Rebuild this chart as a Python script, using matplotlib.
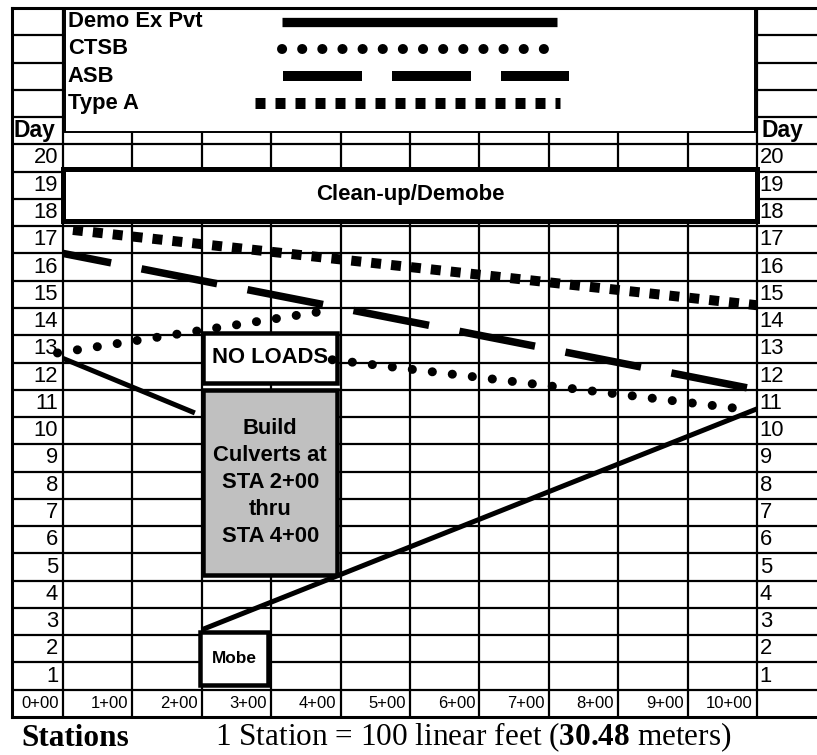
"""Linear schedule: culvert job, days vs. stations (spreadsheet style)."""

import matplotlib.pyplot as plt
import matplotlib.patches as mpatches

plt.rcParams["font.family"] = ["Liberation Sans", "DejaVu Sans"]
plt.rcParams["lines.scale_dashes"] = False
plt.rcParams["mathtext.fontset"] = "custom"
plt.rcParams["mathtext.rm"] = "Liberation Serif"
plt.rcParams["mathtext.bf"] = "Liberation Serif:bold"

OUT = "out.png"
SERIF = ["Liberation Serif", "DejaVu Serif"]


def px(v):
    """pixels -> points at dpi 100"""
    return v * 72 / 100


# --- Data: stations (x) and days (y) ---
STATIONS = list(range(11))
STATION_LABELS = [f"{s}+00" for s in STATIONS]
DAYS = list(range(1, 21))

DEMO_A_STA = [0, 1.9]
DEMO_A_DAY = [12.15, 10.15]
DEMO_B_STA = [2, 10]
DEMO_B_DAY = [2.2, 10.3]

CTSB_A_STA = [-0.08, 3.92]
CTSB_A_DAY = [12.35, 13.95]
CTSB_B_STA = [3.88, 9.93]
CTSB_B_DAY = [12.1, 10.25]

ASB_STA = [0, 10]
ASB_DAY = [16.0, 11.0]

TYPEA_STA = [0, 10]
TYPEA_DAY = [16.9, 14.1]

# activity blocks: station from/to, day from/to
CLEANUP = (0, 10, 17.2, 19.1)
NO_LOADS = (2.02, 3.95, 11.25, 13.1)
CULVERTS = (2.02, 3.95, 4.2, 11.0)
MOBE = (1.98, 2.96, 0.18, 2.12)

LEGEND_NAMES = ["Demo Ex Pvt", "CTSB", "ASB", "Type A"]

# --- Styles ---
SOLID = dict(color="black", lw=px(5), solid_capstyle="butt")
CTSB_STYLE = dict(color="black", lw=px(9), linestyle=(0, (0.1, px(20))),
                  dash_capstyle="round")
ASB_STYLE = dict(color="black", lw=px(7.5),
                 linestyle=(px(28), (px(77), px(31))), dash_capstyle="butt")
TYPEA_STYLE = dict(color="black", lw=px(10),
                   linestyle=(px(10), (px(10), px(10))), dash_capstyle="butt")

LEG_STYLES = [
    dict(color="black", lw=px(9.3), solid_capstyle="butt"),
    dict(color="black", lw=px(10), linestyle=(0, (0.1, px(20))),
         dash_capstyle="round"),
    dict(color="black", lw=px(10), linestyle=(0, (px(79), px(30))),
         dash_capstyle="butt"),
    dict(color="black", lw=px(11), linestyle=(0, (px(10), px(10))),
         dash_capstyle="butt"),
]
LEG_SPANS = [(3.16, 7.12), (3.16, 7.2), (3.17, 7.29), (2.77, 7.16)]

X_LEFT, X_RIGHT = -0.735, 10.865
Y_BOT, Y_TOP = -1, 25
GRID_LW = 1.6

fig = plt.figure(figsize=(8.17, 7.55), dpi=100)
ax = fig.add_axes([12 / 817, 38 / 755, 805 / 817, 709 / 755])
ax.set_xlim(X_LEFT, X_RIGHT)
ax.set_ylim(Y_BOT, Y_TOP)
ax.set_xticks([])
ax.set_yticks([])
for side in ["left", "top", "bottom"]:
    ax.spines[side].set_linewidth(2.2)
ax.spines["right"].set_visible(False)

# --- Spreadsheet grid ---
ax.hlines(range(0, 25), X_LEFT, X_RIGHT, color="black", lw=GRID_LW, zorder=1)
ax.vlines(STATIONS, Y_BOT, Y_TOP, color="black", lw=GRID_LW, zorder=1)

# --- Legend box in the header rows ---
ax.add_patch(mpatches.Rectangle((0.03, 20.44), 9.94, Y_TOP - 20.44,
                                facecolor="white", edgecolor="black",
                                lw=1.4, zorder=2))
for i, (name, style, span) in enumerate(zip(LEGEND_NAMES, LEG_STYLES, LEG_SPANS)):
    yrow = 24.5 - i
    ax.text(0.07, yrow, name, ha="left", va="center", fontsize=15.8,
            fontweight="bold", zorder=4)
    ax.plot(span, [yrow, yrow], zorder=4, **style)

# --- Activity blocks ---
def block(spec, face="white", lw=px(4.5)):
    s0, s1, d0, d1 = spec
    ax.add_patch(mpatches.Rectangle((s0, d0), s1 - s0, d1 - d0,
                                    facecolor=face, edgecolor="black",
                                    lw=lw, zorder=2))
    return (s0 + s1) / 2, (d0 + d1) / 2


cx, cy = block(CLEANUP, lw=px(5))
ax.text(cx, cy, "Clean-up/Demobe", ha="center", va="center", fontsize=16,
        fontweight="bold", zorder=4)
cx, cy = block(NO_LOADS)
ax.text(cx, cy, "NO LOADS", ha="center", va="center", fontsize=15.8,
        fontweight="bold", zorder=4)
cx, cy = block(CULVERTS, face="#c0c0c0")
ax.text(cx, cy, "Build\nCulverts at\nSTA 2+00\nthru\nSTA 4+00", ha="center",
        va="center", multialignment="center", fontsize=15.8,
        fontweight="bold", linespacing=1.38, zorder=4)
cx, cy = block(MOBE)
ax.text(cx, cy, "Mobe", ha="center", va="center", fontsize=12.4,
        fontweight="bold", zorder=4)

# --- Activity lines ---
ax.plot(DEMO_A_STA, DEMO_A_DAY, zorder=3, **SOLID)
ax.plot(DEMO_B_STA, DEMO_B_DAY, zorder=3, **SOLID)
ax.plot(CTSB_A_STA, CTSB_A_DAY, zorder=3, **CTSB_STYLE)
ax.plot(CTSB_B_STA, CTSB_B_DAY, zorder=3, **CTSB_STYLE)
ax.plot(ASB_STA, ASB_DAY, zorder=3, **ASB_STYLE)
ax.plot(TYPEA_STA, TYPEA_DAY, zorder=3, **TYPEA_STYLE)

# --- Day labels, both sides ---
for d in DAYS:
    ax.text(-0.07, d - 0.5, str(d), ha="right", va="center", fontsize=15.8)
    ax.text(10.04, d - 0.5, str(d), ha="left", va="center", fontsize=15.8)
ax.text(X_LEFT + 0.02, 20.5, "Day", ha="left", va="center", fontsize=16.5,
        fontweight="bold")
ax.text(10.06, 20.5, "Day", ha="left", va="center", fontsize=16.5,
        fontweight="bold")

# --- Station labels ---
for s, lab in zip(STATIONS, STATION_LABELS):
    ax.text(s - 0.06, -0.5, lab, ha="right", va="center", fontsize=12)

# --- Footer ---
ax.text(-0.605, -2.05, "Stations", ha="left", va="baseline", fontsize=22.5,
        fontweight="bold", family=SERIF)
ax.text(2.19, -2.05, r"1 Station = 100 linear feet ($\mathbf{30.48}$ meters)",
        ha="left", va="baseline", fontsize=22.5, family=SERIF)

plt.savefig(OUT, dpi=100, facecolor="white")
plt.close()
